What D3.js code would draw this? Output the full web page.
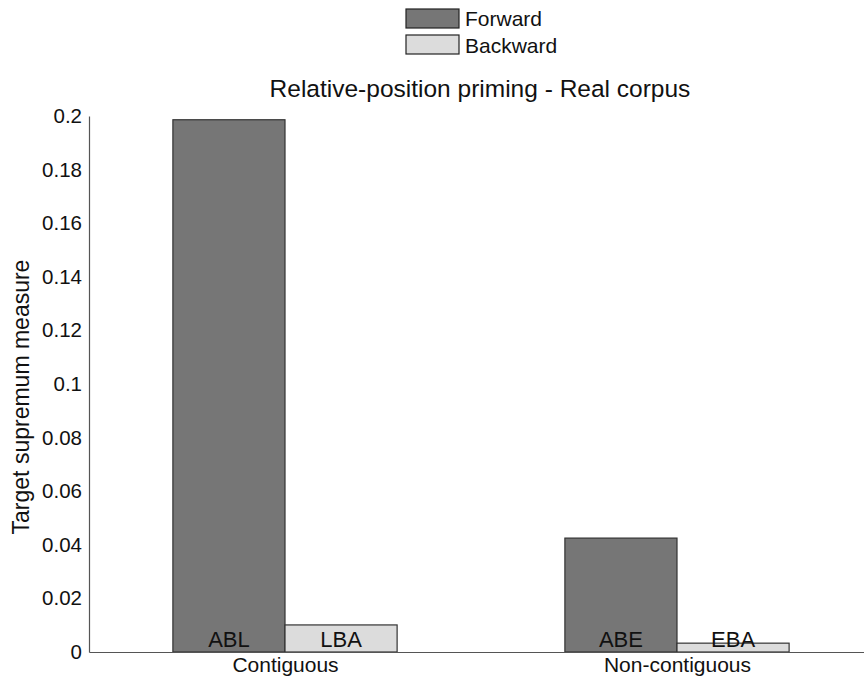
<!DOCTYPE html>
<html><head><meta charset="utf-8">
<script src="https://cdn.jsdelivr.net/npm/d3@7"></script>
<style>body{margin:0;background:#fff}svg{display:block}text{font-family:"Liberation Sans",Arial,sans-serif;fill:#111}</style>
</head><body>
<svg id="c" width="864" height="679"></svg>
<script>
const categories = ["Contiguous", "Non-contiguous"];
const seriesNames = ["Forward", "Backward"];
const forward = [0.1986, 0.0425];
const backward = [0.0101, 0.0033];
const barLabels = [["ABL", "LBA"], ["ABE", "EBA"]];
const yTicks = [0, 0.02, 0.04, 0.06, 0.08, 0.1, 0.12, 0.14, 0.16, 0.18, 0.2];
const title = "Relative-position priming - Real corpus";
const yLabel = "Target supremum measure";

const svg = d3.select("#c");
const colors = ["#767676", "#dcdcdc"];
const x = d3.scaleLinear().domain([0.5, 2.5]).range([89, 873]);
const y = d3.scaleLinear().domain([0, 0.2]).range([652, 116]);
const bw = 0.286;
const ff = '"Liberation Sans",Arial,sans-serif';
const axisColor = "#555";

const series = [forward, backward];
series.forEach((vals, s) => {
  svg.selectAll(null).data(vals).enter().append("rect")
    .attr("x", (d, i) => x(i + 1 + (s === 0 ? -bw : 0)))
    .attr("width", x(1 + bw) - x(1))
    .attr("y", d => y(d))
    .attr("height", d => y(0) - y(d))
    .attr("fill", colors[s]).attr("stroke", "#333").attr("stroke-width", 1.2);
  svg.selectAll(null).data(vals).enter().append("text")
    .attr("x", (d, i) => x(i + 1 + (s === 0 ? -bw / 2 : bw / 2)))
    .attr("y", y(0) - 5)
    .attr("text-anchor", "middle").attr("font-size", 22)
    .text((d, i) => barLabels[i][s]);
});

// y axis
const yAxis = d3.axisLeft(y).tickValues(yTicks).tickSize(0).tickPadding(7)
  .tickFormat(d => d === 0 ? "0" : String(+d.toFixed(2)));
const gy = svg.append("g").attr("transform", `translate(${x(0.5)},0)`).call(yAxis);
gy.select(".domain").attr("stroke", axisColor).attr("stroke-width", 1.2);
gy.selectAll("text").attr("font-size", 20.5).attr("fill", "#111").attr("font-family", ff);

// x axis
const gx = svg.append("g").attr("transform", `translate(0,${y(0)})`)
  .call(d3.axisBottom(x).tickValues([1, 2]).tickSize(0).tickPadding(5).tickFormat((d) => categories[d - 1]));
gx.select(".domain").attr("stroke", axisColor).attr("stroke-width", 1.2);
gx.selectAll("text").attr("font-size", 21).attr("fill", "#111").attr("font-family", ff);

// title
svg.append("text").attr("x", 480).attr("y", 97).attr("text-anchor", "middle")
  .attr("font-size", 24.5).text(title);
// y label
svg.append("text").attr("transform", `translate(29,397) rotate(-90)`).attr("text-anchor", "middle")
  .attr("font-size", 23).text(yLabel);

// legend
seriesNames.forEach((n, i) => {
  svg.append("rect").attr("x", 406).attr("y", 9 + i * 26).attr("width", 53).attr("height", 19)
    .attr("fill", colors[i]).attr("stroke", "#222").attr("stroke-width", 1.2);
  svg.append("text").attr("x", 465).attr("y", 26 + i * 27).attr("font-size", 21).text(n);
});
</script>
</body></html>
